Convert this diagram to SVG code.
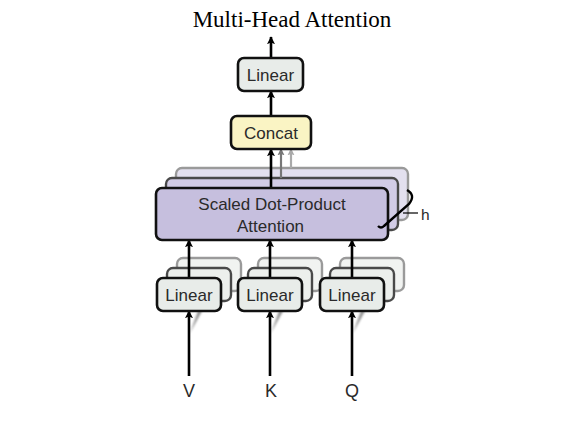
<svg xmlns="http://www.w3.org/2000/svg" width="582" height="441" viewBox="0 0 582 441">
<defs>
<style>
.box{stroke:#111;stroke-width:2.6}
.lin{fill:#E8ECE9}
.cc{fill:#FAF4C4}
.sd{fill:#C6BFDE}
.b1{stroke:#4a4a4a;stroke-width:2.4;filter:url(#bl)}
.b2{stroke:#9a9a9a;stroke-width:2.4;filter:url(#bl)}
.t{font-family:"Liberation Sans",Arial,sans-serif;font-size:17px;fill:#2a2a2a;text-anchor:middle}
.io{font-family:"Liberation Sans",Arial,sans-serif;font-size:18px;fill:#2a2a2a;text-anchor:middle}
.ar{stroke:#000;stroke-width:2.6;fill:none}
.g1{stroke:#555;stroke-width:2.2;fill:none;filter:url(#bl)}
.g2{stroke:#999;stroke-width:2.2;fill:none;filter:url(#bl)}
</style>
<filter id="bl" x="-20%" y="-20%" width="140%" height="140%"><feGaussianBlur stdDeviation="0.6"/></filter>
<filter id="sh" x="-50%" y="-50%" width="200%" height="200%"><feGaussianBlur stdDeviation="1.2"/></filter>
<marker id="ah" viewBox="0 0 10 10" refX="9" refY="5" markerWidth="8" markerHeight="9" markerUnits="userSpaceOnUse" orient="auto"><path d="M0,0 L10,5 L0,10 L2,5 z" fill="#000"/></marker>
<marker id="ah1" viewBox="0 0 10 10" refX="9" refY="5" markerWidth="7" markerHeight="8" markerUnits="userSpaceOnUse" orient="auto"><path d="M0,0 L10,5 L0,10 L2,5 z" fill="#777"/></marker>
<marker id="ah2" viewBox="0 0 10 10" refX="9" refY="5" markerWidth="7" markerHeight="8" markerUnits="userSpaceOnUse" orient="auto"><path d="M0,0 L10,5 L0,10 L2,5 z" fill="#aaa"/></marker>
</defs>
<rect width="582" height="441" fill="#fff"/>
<text x="292" y="27" font-family="'Liberation Serif','Times New Roman',serif" font-size="23" fill="#000" text-anchor="middle">Multi-Head Attention</text>

<g id="sdpa-copies">
<rect x="176" y="168" width="232" height="52" rx="6" fill="#E3E0EF" class="b2"/>
<rect x="166" y="178" width="232" height="52" rx="6" fill="#D2CCE6" class="b1"/>
</g>

<g id="linear-copies">
<rect x="177" y="258" width="64" height="33" rx="6" fill="#F1F3F1" class="b2"/>
<rect x="167" y="268" width="64" height="33" rx="6" fill="#ECEFEC" class="b1"/>
<rect x="258" y="258" width="64" height="33" rx="6" fill="#F1F3F1" class="b2"/>
<rect x="248" y="268" width="64" height="33" rx="6" fill="#ECEFEC" class="b1"/>
<rect x="340" y="258" width="64" height="33" rx="6" fill="#F1F3F1" class="b2"/>
<rect x="330" y="268" width="64" height="33" rx="6" fill="#ECEFEC" class="b1"/>
</g>

<g id="connectors">
<line x1="271" y1="58" x2="271" y2="37" class="ar" marker-end="url(#ah)"/>
<line x1="271" y1="116" x2="271" y2="91" class="ar" marker-end="url(#ah)"/>
<line x1="271" y1="188" x2="271" y2="149" class="ar" marker-end="url(#ah)"/>
<line x1="281" y1="178" x2="281" y2="149" stroke="#777" stroke-width="2.2" marker-end="url(#ah1)"/>
<line x1="291" y1="168" x2="291" y2="149" stroke="#aaa" stroke-width="2.2" marker-end="url(#ah2)"/>
<line x1="208" y1="258" x2="208" y2="240" class="g2"/>
<line x1="199" y1="268" x2="199" y2="240" class="g1"/>
<line x1="290" y1="258" x2="290" y2="240" class="g2"/>
<line x1="281" y1="268" x2="281" y2="240" class="g1"/>
<line x1="371" y1="258" x2="371" y2="240" class="g2"/>
<line x1="362" y1="268" x2="362" y2="240" class="g1"/>
<line x1="189" y1="278" x2="189" y2="240" class="ar" marker-end="url(#ah)"/>
<line x1="270" y1="278" x2="270" y2="240" class="ar" marker-end="url(#ah)"/>
<line x1="352" y1="278" x2="352" y2="240" class="ar" marker-end="url(#ah)"/>
<g filter="url(#sh)" opacity="0.65">
<path d="M190,333 L198,311 L202,311 Z" fill="#555"/>
<path d="M271,333 L279,311 L283,311 Z" fill="#555"/>
<path d="M353,333 L361,311 L365,311 Z" fill="#555"/>
</g>
<line x1="189" y1="376" x2="189" y2="311" class="ar" marker-end="url(#ah)"/>
<line x1="270" y1="376" x2="270" y2="311" class="ar" marker-end="url(#ah)"/>
<line x1="352" y1="376" x2="352" y2="311" class="ar" marker-end="url(#ah)"/>
</g>

<g id="linear-out">
<rect x="238" y="58" width="65" height="33" rx="6" class="box lin"/>
<text x="270.5" y="81" class="t">Linear</text>
</g>
<g id="concat">
<rect x="231" y="116" width="80" height="33" rx="6" class="box cc"/>
<text x="271" y="139" class="t" font-size="18.5">Concat</text>
</g>
<g id="sdpa">
<rect x="156" y="188" width="232" height="52" rx="6" class="box sd"/>
<text x="272" y="210" class="t" font-size="17.5">Scaled Dot-Product</text>
<text x="270.5" y="231.5" class="t" font-size="17.5">Attention</text>
</g>
<g id="heads">
<path d="M407,190 Q416,195 409,204 L384,226 Q381,229 378,226" fill="none" stroke="#000" stroke-width="2.4"/>
<line x1="403" y1="213" x2="418" y2="213" stroke="#000" stroke-width="1.2"/>
<text x="421" y="220" font-family="'Liberation Sans',Arial,sans-serif" font-size="15.5" fill="#2a2a2a">h</text>
</g>
<g id="linear-v">
<rect x="157" y="278" width="64" height="33" rx="6" class="box lin"/>
<text x="189" y="300.5" class="t">Linear</text>
</g>
<g id="linear-k">
<rect x="238" y="278" width="64" height="33" rx="6" class="box lin"/>
<text x="270" y="300.5" class="t">Linear</text>
</g>
<g id="linear-q">
<rect x="320" y="278" width="64" height="33" rx="6" class="box lin"/>
<text x="352" y="300.5" class="t">Linear</text>
</g>
<g id="inputs">
<text x="189" y="397" class="io">V</text>
<text x="271" y="397" class="io">K</text>
<text x="352" y="397" class="io">Q</text>
</g>
</svg>
